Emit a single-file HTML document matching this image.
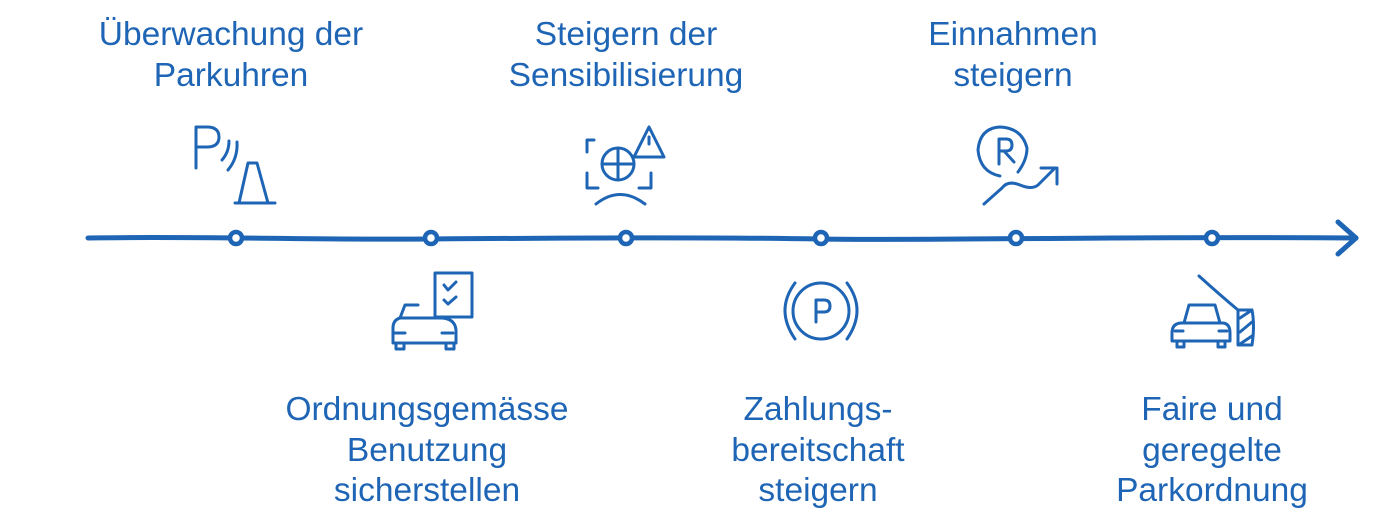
<!DOCTYPE html>
<html><head><meta charset="utf-8"><style>
html,body{margin:0;padding:0;background:#fff;}
svg{display:block;}
text{font-family:"Liberation Sans",Arial,sans-serif;font-size:33.5px;fill:#1f65b5;text-anchor:middle;}
</style></head><body>
<svg width="1400" height="520" viewBox="0 0 1400 520" xmlns="http://www.w3.org/2000/svg">
<g fill="none" stroke="#1f65b5" stroke-linecap="round" stroke-linejoin="round">
<path d="M88 238 C200 236 300 240 430 239 S700 237 820 239 S1100 236 1356 238" stroke-width="5"/>
<path d="M1338 222 L1356 238 L1338 254" stroke-width="5"/>
</g>
<g fill="#fff" stroke="#1f65b5" stroke-width="4.5">
<circle cx="236" cy="238" r="6"/><circle cx="431" cy="238" r="6"/><circle cx="626" cy="238" r="6"/>
<circle cx="821" cy="238" r="6"/><circle cx="1016" cy="238" r="6"/><circle cx="1212" cy="238" r="6"/>
</g>
<g fill="none" stroke="#1f65b5" stroke-width="3" stroke-linecap="round" stroke-linejoin="round">
<!-- icon 1 -->
<path d="M196 168 V127 H207 Q219 127 219 137 Q219 147 207 147 H197"/>
<path d="M222 160 Q229 152 229 141"/><path d="M228 170 Q238 158 237 142"/>
<path d="M235 203 H275 M239 203 L248 163 H257 L268 203"/>
<!-- icon 2 -->
<path d="M435 273 H472 V317 H435 Z"/>
<path d="M444 285 L448 290 L456 282 M444 300 L448 304 L456 297"/>
<path d="M418 305 H405 L400 318 H440 Q455 318 456 330 V343 H393 V328 Q393 320 400 318"/>
<path d="M394 333 H405 M442 333 H453 M396 343 V349 H404 V343 M446 343 V349 H454 V343"/>
<!-- icon 3 -->
<path d="M594 140 H587 V152 M587 173 V188 H598 M651 173 V188 H639"/>
<path d="M649 127 L664 157 H634 Z M649 137 V144"/>
<circle cx="618" cy="164" r="16"/><path d="M618 148 V180 M602 164 H634"/>
<path d="M596 204 Q620 185 645 204"/>
<!-- icon 4 -->
<circle cx="821" cy="311" r="28"/>
<path d="M816 322 V300 H824 Q830 300 830 306 Q830 312 824 312 H816"/>
<path d="M795 283 Q775 310 795 339 M847 283 Q867 310 847 339"/>
<!-- icon 5 -->
<path d="M1000 176 Q980 172 978 150 Q980 128 1000 127 Q1022 128 1027 148 Q1027 160 1018 172"/>
<path d="M999 164 V139 H1006 Q1012 139 1012 145 Q1012 151 1006 151 H1000 M1004 151 L1014 162"/>
<path d="M984 204 L1002 188 Q1008 180 1020 185 Q1032 190 1038 185 L1054 169 M1041 168 H1057 V184"/>
<!-- icon 6 -->
<path d="M1199 276 Q1220 295 1238 310"/>
<path d="M1238 310 H1252 Q1255 325 1252 345 H1238 Z M1240 318 L1252 310 M1240 332 L1252 322 M1240 344 L1252 336"/>
<path d="M1184 323 L1189 305 H1215 L1220 323 M1172 333 Q1172 323 1182 323 H1222 Q1230 323 1230 333 V341 H1172 Z"/>
<path d="M1175 331 H1183 M1219 331 H1227 M1177 341 V347 H1184 V341 M1218 341 V347 H1225 V341"/>
</g>
<text x="231" y="45">Überwachung der</text>
<text x="231" y="86">Parkuhren</text>
<text x="626" y="45">Steigern der</text>
<text x="626" y="86">Sensibilisierung</text>
<text x="1013" y="45">Einnahmen</text>
<text x="1013" y="86">steigern</text>
<text x="427" y="420">Ordnungsgemässe</text>
<text x="427" y="461">Benutzung</text>
<text x="427" y="501">sicherstellen</text>
<text x="818" y="420">Zahlungs-</text>
<text x="818" y="461">bereitschaft</text>
<text x="818" y="501">steigern</text>
<text x="1212" y="420">Faire und</text>
<text x="1212" y="461">geregelte</text>
<text x="1212" y="501">Parkordnung</text>
</svg>
</body></html>
